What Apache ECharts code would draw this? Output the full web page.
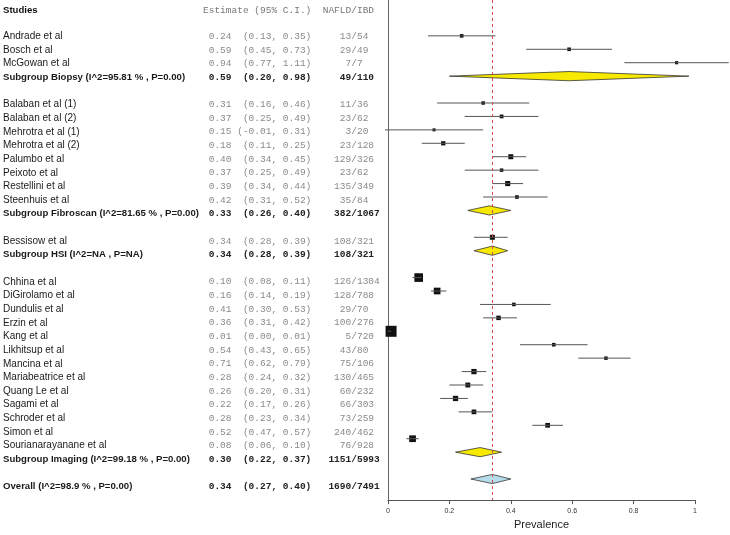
<!DOCTYPE html>
<html><head><meta charset="utf-8">
<script src="https://cdn.jsdelivr.net/npm/echarts@6/dist/echarts.min.js"></script>
<style>html,body{margin:0;padding:0;background:#fff}#c{width:730px;height:535px}</style>
</head><body><div id="c"></div>
<script>
// ---- data (one entry per row; blank rows are null) ----
const studies = [
  "Andrade et al","Bosch et al","McGowan et al","Subgroup Biopsy (I^2=95.81 % , P=0.00)", null,
  "Balaban et al (1)","Balaban et al (2)","Mehrotra et al (1)","Mehrotra et al (2)","Palumbo et al",
  "Peixoto et al","Restellini et al","Steenhuis et al","Subgroup Fibroscan (I^2=81.65 % , P=0.00)", null,
  "Bessisow et al","Subgroup HSI (I^2=NA , P=NA)", null,
  "Chhina et al","DiGirolamo et al","Dundulis et al","Erzin et al","Kang et al","Likhitsup et al",
  "Mancina et al","Mariabeatrice et al","Quang Le et al","Sagami et al","Schroder et al","Simon et al",
  "Sourianarayanane et al","Subgroup Imaging (I^2=99.18 % , P=0.00)", null,
  "Overall (I^2=98.9 % , P=0.00)"
];
const kinds = [
  "study","study","study","subgroup",null,
  "study","study","study","study","study","study","study","study","subgroup",null,
  "study","subgroup",null,
  "study","study","study","study","study","study","study","study","study","study","study","study","study","subgroup",null,
  "overall"
];
const estimates = [0.24,0.59,0.94,0.59,null, 0.31,0.37,0.15,0.18,0.40,0.37,0.39,0.42,0.33,null, 0.34,0.34,null,
  0.10,0.16,0.41,0.36,0.01,0.54,0.71,0.28,0.26,0.22,0.28,0.52,0.08,0.30,null, 0.34];
const lower = [0.13,0.45,0.77,0.20,null, 0.16,0.25,-0.01,0.11,0.34,0.25,0.34,0.31,0.26,null, 0.28,0.28,null,
  0.08,0.14,0.30,0.31,0.00,0.43,0.62,0.24,0.20,0.17,0.23,0.47,0.06,0.22,null, 0.27];
const upper = [0.35,0.73,1.11,0.98,null, 0.46,0.49,0.31,0.25,0.45,0.49,0.44,0.52,0.40,null, 0.39,0.39,null,
  0.11,0.19,0.53,0.42,0.01,0.65,0.79,0.32,0.31,0.26,0.34,0.57,0.10,0.37,null, 0.40];
const nafld = [13,29,7,49,null, 11,23,3,23,129,23,135,35,382,null, 108,108,null,
  126,128,29,100,5,43,75,130,60,66,73,240,76,1151,null, 1690];
const ibd = [54,49,7,110,null, 36,62,20,128,326,62,349,84,1067,null, 321,321,null,
  1304,788,70,276,720,80,106,465,232,303,259,462,928,5993,null, 7491];
// relative study weights (box area)
const weights = [13,13,10,null,null, 12,14,9,18,25,12,26,13,null,null, 25,null,null,
  75,45,13,20,121,13,12,28,24,28,22,22,45,null,null, null];
const headers = ["Studies","Estimate (95% C.I.)  NAFLD/IBD"];
const xTicks = [0,0.2,0.4,0.6,0.8,1];
const xLabel = "Prevalence";

// ---- build ----
const HEADER_ROW = -1.88;
const NAME_X = 3, MONO_X = 203;
const f2 = v => v.toFixed(2);
function monoLine(i){
  return " " + f2(estimates[i]) + " " + ("(" + f2(lower[i])).padStart(6) + ", " + f2(upper[i]) + ")" +
         "  " + String(nafld[i]).padStart(5) + "/" + ibd[i];
}
const SANS = '"Liberation Sans", Arial, sans-serif';
const MONO = '"Liberation Mono", "Courier New", monospace';

const textData = [];
textData.push({value:[NAME_X, HEADER_ROW], t:headers[0], font:'bold 9.6px ' + SANS, fill:'#111'});
textData.push({value:[MONO_X, HEADER_ROW], t:headers[1], font:'9.5px ' + MONO, fill:'#777'});
studies.forEach((s,i)=>{
  if(s===null) return;
  const bold = kinds[i] !== 'study';
  textData.push({value:[NAME_X, i], t:s, font:(bold?'bold 9.6px ':'10px ') + SANS, fill:'#1a1a1a'});
  textData.push({value:[MONO_X, i], t:monoLine(i), font:(bold?'bold ':'') + '9.5px ' + MONO, fill: bold ? '#222' : '#8a8a8a'});
});

const studyData = [], diamondData = [];
studies.forEach((s,i)=>{
  if(s===null) return;
  if(kinds[i]==='study') studyData.push([estimates[i], lower[i], upper[i], i, weights[i]]);
  else diamondData.push({value:[estimates[i], lower[i], upper[i], i], kind:kinds[i]});
});
const overallIdx = kinds.indexOf('overall');

const yMin = -2.67, yMax = 34.57;
const option = {
  animation:false,
  grid:[
    {left:388, right:35, top:0, bottom:27},
    {left:0, width:388, top:0, bottom:27}
  ],
  xAxis:[
    {gridIndex:0, type:'value', position:'bottom', min:xTicks[0], max:xTicks[xTicks.length-1], interval:xTicks[1]-xTicks[0],
     axisLine:{show:true, onZero:false, lineStyle:{color:'#555', width:1}},
     axisTick:{show:true, length:4, lineStyle:{color:'#555'}},
     axisLabel:{fontSize:7, color:'#333', margin:7, fontFamily:SANS},
     splitLine:{show:false},
     name:xLabel, nameLocation:'middle', nameGap:17,
     nameTextStyle:{fontSize:11, color:'#222', fontFamily:SANS}},
    {gridIndex:1, type:'value', min:0, max:388, show:false}
  ],
  yAxis:[
    {gridIndex:0, type:'value', min:yMin, max:yMax, inverse:true, position:'left',
     axisLine:{show:true, onZero:false, lineStyle:{color:'#666', width:1}}, axisTick:{show:false},
     axisLabel:{show:false}, splitLine:{show:false}},
    {gridIndex:1, type:'value', min:yMin, max:yMax, inverse:true, show:false}
  ],
  series:[
    {type:'custom', xAxisIndex:0, yAxisIndex:0, clip:false, data:studyData,
     encode:{x:[0,1,2], y:3},
     renderItem:(p,api)=>{
       const e=api.value(0), lo=api.value(1), hi=api.value(2), r=api.value(3), w=api.value(4);
       const pL=api.coord([lo,r]), pH=api.coord([hi,r]), pE=api.coord([e,r]);
       const s=Math.sqrt(w);
       return {type:'group', children:[
         {type:'rect', shape:{x:pE[0]-s/2, y:pE[1]-s/2, width:s, height:s}, style:{fill:'#111'}},
         {type:'line', shape:{x1:pL[0], y1:pL[1], x2:pH[0], y2:pH[1]}, style:{stroke:'#555', lineWidth:1}}
       ]};
     },
     markLine:{silent:true, symbol:'none', animation:false,
       data:[{xAxis:estimates[overallIdx]}],
       label:{show:false},
       lineStyle:{color:'#d04a4a', type:[3,3], width:1}}
    },
    {type:'custom', xAxisIndex:0, yAxisIndex:0, clip:false, data:diamondData,
     encode:{x:[0,1,2], y:3},
     renderItem:(p,api)=>{
       const e=api.value(0), lo=api.value(1), hi=api.value(2), r=api.value(3);
       const pL=api.coord([lo,r]), pH=api.coord([hi,r]), pE=api.coord([e,r]);
       const h=4.6;
       const k=diamondData[p.dataIndex].kind;
       return {type:'polygon', shape:{points:[[pL[0],pL[1]],[pE[0],pE[1]-h],[pH[0],pH[1]],[pE[0],pE[1]+h]]},
         style:{fill: k==='overall' ? '#b7dcea' : '#f7ea00', stroke:'#333', lineWidth:0.8}};
     }
    },
    {type:'custom', xAxisIndex:1, yAxisIndex:1, clip:false, data:textData,
     encode:{x:0, y:1},
     renderItem:(p,api)=>{
       const d=textData[p.dataIndex];
       const c=api.coord([api.value(0), api.value(1)]);
       return {type:'text', x:c[0], y:c[1],
         style:{text:d.t, font:d.font, fill:d.fill, textAlign:'left', textVerticalAlign:'middle'}};
     }
    }
  ]
};
echarts.init(document.getElementById('c')).setOption(option);
</script></body></html>
